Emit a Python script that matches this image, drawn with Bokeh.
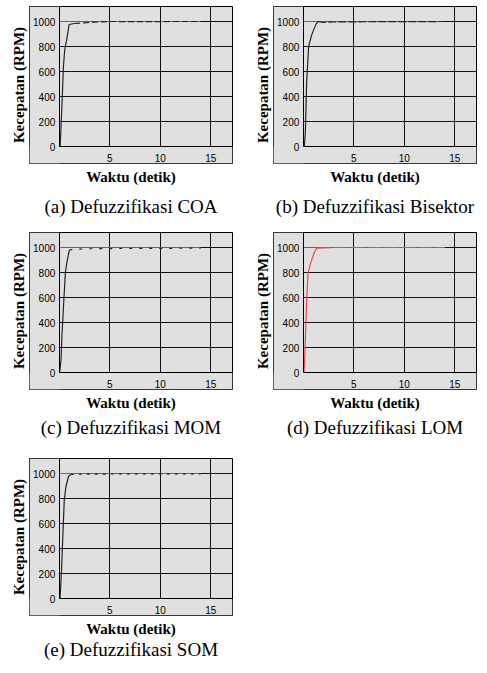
from bokeh.plotting import figure
from bokeh.models import Range1d, FixedTicker, LinearAxis, BoxAnnotation, Title, Grid
from bokeh.layouts import column, row
from bokeh.embed import file_html
from bokeh.resources import INLINE

# ---------------- data ----------------
time_ticks = [5, 10, 15]
speed_ticks = [0, 200, 400, 600, 800, 1000]
grid_speed = [200, 400, 600, 800, 1000]
setpoint_t = [0, 14]
setpoint_v = [1000, 1000]

# (a) COA
coa_t = [0.05, 0.08, 0.15, 0.31, 0.41, 0.54, 0.74, 0.97, 1.47, 2.46, 3.45, 5.1, 8.0, 11.0, 14.0]
coa_v = [0, 3, 110, 430, 642, 776, 856, 976, 984, 989, 995, 1000, 999, 1000, 1000]
coa_split = 9
# (b) Bisektor
bis_t = [0.1, 0.2, 0.33, 0.53, 0.83, 1.27, 1.5, 1.9, 3.0, 6.0, 10.0, 14.0]
bis_v = [0, 107, 507, 800, 893, 981, 1000, 993, 996, 998, 999, 1000]
bis_split = 7
# (c) MOM
mom_t = [0.03, 0.17, 0.27, 0.6, 0.78, 1.0, 1.3, 3.0, 6.0, 10.0, 14.0]
mom_v = [0, 98, 310, 800, 894, 979, 985, 990, 992, 993, 995]
mom_split = 6
# (d) LOM
lom_t = [0.07, 0.14, 0.24, 0.34, 0.48, 0.75, 1.09, 1.33, 3.0, 8.0, 14.0]
lom_v = [0, 111, 350, 589, 801, 880, 960, 995, 1000, 1000, 1000]
lom_split = 8
# (e) SOM
som_t = [0.07, 0.2, 0.33, 0.49, 0.65, 0.92, 1.14, 2.0, 5.0, 9.0, 14.0]
som_v = [0, 189, 459, 784, 892, 978, 992, 994, 996, 997, 997]
som_split = 7

GRAY = "#e0e0e0"
RED = "#e8302a"
SANS = "Liberation Sans"
SERIF = "Liberation Serif"


def panel(t, v, split, caption, curve_color, dash, ml, mr, mt, mb,
          xt_standoff=6, cap_standoff=2):
    p = figure(frame_width=203, frame_height=157,
               x_range=Range1d(-2.95, 17.15), y_range=Range1d(-136, 1120),
               x_axis_type=None, y_axis_type=None,
               output_backend="svg", toolbar_location=None,
               background_fill_color=GRAY, border_fill_color="white",
               outline_line_color="black", outline_line_width=1,
               min_border_left=ml, min_border_right=mr,
               min_border_top=mt, min_border_bottom=mb)

    xg = Grid(dimension=0, ticker=FixedTicker(ticks=time_ticks),
              grid_line_color="#111111", grid_line_width=1)
    yg = Grid(dimension=1, ticker=FixedTicker(ticks=grid_speed),
              grid_line_color="#111111", grid_line_width=1)
    p.add_layout(xg)
    p.add_layout(yg)
    p.add_layout(BoxAnnotation(left=-2.95, right=0, bottom=-136, top=1120,
                               fill_color=GRAY, fill_alpha=1, line_color=None,
                               level="underlay"))
    p.add_layout(BoxAnnotation(left=-2.95, right=17.15, bottom=-136, top=0,
                               fill_color=GRAY, fill_alpha=1, line_color=None,
                               level="underlay"))

    ya = LinearAxis(fixed_location=0, ticker=FixedTicker(ticks=speed_ticks),
                    bounds=(0, 1120), axis_line_color="black", axis_line_width=1,
                    major_tick_out=0, major_tick_in=0, minor_tick_line_color=None,
                    major_label_standoff=4, major_label_text_font=SANS,
                    major_label_text_font_size="10px", major_label_text_color="black")
    xa = LinearAxis(fixed_location=0, ticker=FixedTicker(ticks=time_ticks),
                    bounds=(0, 17.15), axis_line_color="black", axis_line_width=1,
                    major_tick_out=0, major_tick_in=0, minor_tick_line_color=None,
                    major_label_standoff=7, major_label_text_font=SANS,
                    major_label_text_font_size="10px", major_label_text_color="black")
    p.add_layout(ya, "left")
    p.add_layout(xa, "below")

    p.add_layout(Title(text="Kecepatan (RPM)", align="center", text_font=SERIF,
                       text_font_style="bold", text_font_size="15px",
                       text_color="black", standoff=5), "left")
    p.add_layout(Title(text="Waktu (detik)", align="center", text_font=SERIF,
                       text_font_style="bold", text_font_size="15px",
                       text_color="black", standoff=xt_standoff), "below")

    p.add_layout(Title(text=caption, align="center", text_font=SERIF,
                       text_font_style="normal", text_font_size="19px",
                       text_color="black", standoff=cap_standoff), "below")

    p.line(setpoint_t, setpoint_v, line_color=RED, line_width=1.2)
    p.line(t[:split], v[:split], line_color=curve_color, line_width=1.2)
    p.line(t[split - 1:], v[split - 1:], line_color=curve_color, line_width=1.2,
           line_dash=dash)
    return p


pa = panel(coa_t, coa_v, coa_split, "(a) Defuzzifikasi COA", "#222222", "6 3", 29, 12, 6, 63,
           cap_standoff=12)
pb = panel(bis_t, bis_v, bis_split, "(b) Defuzzifikasi Bisektor", "#222222", "8 2", 29, 2, 6, 63,
           cap_standoff=12)
pc = panel(mom_t, mom_v, mom_split, "(c) Defuzzifikasi MOM", "#222222", "3 7", 29, 12, 6, 63,
           cap_standoff=3)
pd = panel(lom_t, lom_v, lom_split, "(d) Defuzzifikasi LOM", "#f04848", "14 3", 29, 2, 6, 63,
           cap_standoff=3)
pe = panel(som_t, som_v, som_split, "(e) Defuzzifikasi SOM", "#222222", "3 5", 29, 12, 6, 50,
           cap_standoff=-6)

layout = column(row(pa, pb), row(pc, pd), row(pe))
open("out.html", "w").write(file_html(layout, INLINE))
